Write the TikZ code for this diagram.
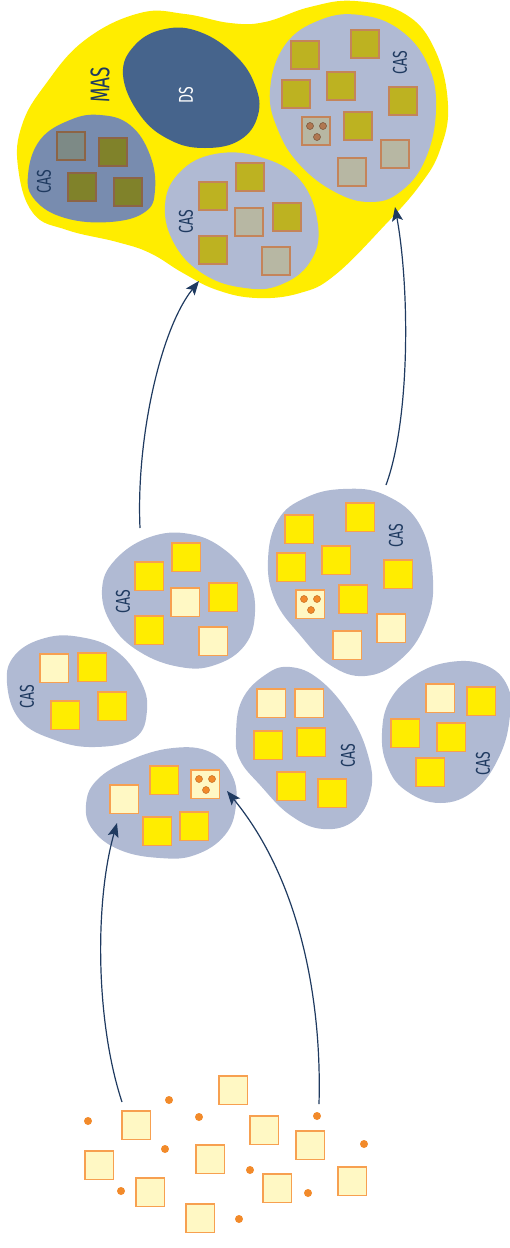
\documentclass[tikz,border=0pt]{standalone}
\usepackage{fontspec}
\newfontfamily\casfont[FakeStretch=0.7]{Fira Sans}
\usetikzlibrary{arrows.meta}
\definecolor{masyellow}{HTML}{FFED00}
\definecolor{casblue}{HTML}{B0BAD3}
\definecolor{casdark}{HTML}{788CAF}
\definecolor{dsblue}{HTML}{46648C}
\definecolor{navy}{HTML}{1F3A60}
\definecolor{sqorange}{HTML}{F7A050}
\definecolor{paleyellow}{HTML}{FFF8C4}
\definecolor{dotorange}{HTML}{F28A2A}
\definecolor{olivesq}{HTML}{BDB221}
\definecolor{graysq}{HTML}{B7B7A3}
\definecolor{darkolive}{HTML}{80822A}
\definecolor{darkgray}{HTML}{7D8A86}
\definecolor{brownedge}{HTML}{C4845A}
\definecolor{darkedge}{HTML}{8C6446}
\tikzset{
  sq/.style={draw=sqorange, line width=1.5pt, minimum size=28.5pt, inner sep=0pt},
  yelsq/.style={sq, fill=masyellow},
  palesq/.style={sq, fill=paleyellow},
  topsq/.style={draw=brownedge, line width=2pt, minimum size=28pt, inner sep=0pt},
  dot/.style={circle, fill=dotorange, minimum size=8pt, inner sep=0pt},
  smalldot/.style={circle, fill=dotorange, draw=dotorange!80!black, line width=.5pt, minimum size=7pt, inner sep=0pt},
  caslabel/.style={text=navy, rotate=90, font=\casfont\fontsize{20}{20}\selectfont},
  link/.style={draw=navy, line width=1.2pt, -{Stealth[length=14pt,width=11pt,inset=3pt]}}
}
\begin{document}
\begin{tikzpicture}[x=1pt,y=-1pt]
\useasboundingbox (0,0) rectangle (510,1248);

% MAS
\fill[masyellow] plot[smooth cycle, tension=0.7] coordinates {(18,167) (22,125) (45,85) (85,40) (140,13) (185,14) (230,23) (265,22) (310,7) (355,1) (405,14) (435,50) (448,105) (440,150) (420,185) (385,225) (335,275) (300,293) (257,298) (217,290) (183,273) (150,253) (117,242) (67,230) (33,213)};
\fill[dsblue] plot[smooth cycle, tension=0.7] coordinates {(123,75) (135,45) (165,29) (200,32) (235,55) (255,85) (258,115) (240,140) (205,148) (170,140) (140,115)};
\fill[casdark] plot[smooth cycle, tension=0.7] coordinates {(28,175) (40,140) (70,120) (100,115) (130,125) (150,155) (155,190) (145,212) (110,222) (65,218) (35,200)};
\fill[casblue] plot[smooth cycle, tension=0.7] coordinates {(165,205) (180,172) (215,154) (260,157) (300,180) (318,225) (310,262) (280,285) (245,288) (205,275) (175,245)};
\fill[casblue] plot[smooth cycle, tension=0.7] coordinates {(270,90) (285,45) (320,20) (360,15) (400,30) (428,65) (436,110) (425,160) (400,192) (370,202) (335,192) (300,165) (278,130)};

\node[text=navy, rotate=90, font=\casfont\fontsize{27}{27}\selectfont] (mas) at (100,85) {MAS};
\node[text=white, rotate=90, font=\casfont\fontsize{20}{20}\selectfont] (ds) at (186,95) {DS};

\node[topsq, draw=darkedge, fill=darkgray] (tl1) at (71,146) {};
\foreach \Point [count=\i] in {(113,152), (82,187), (128,192)}{
    \node[topsq, draw=darkedge, fill=darkolive] (tld\i) at \Point {};
}
\foreach \Point [count=\i] in {(213,196), (250,177), (287,217), (213,250),
        (305,55), (365,44), (341,86), (296,94), (403,101), (358,126)}{
    \node[topsq, fill=olivesq] (to\i) at \Point {};
}
\foreach \Point [count=\i] in {(249,222), (276,261), (395,154), (352,172)}{
    \node[topsq, fill=graysq] (tg\i) at \Point {};
}
\node[topsq, fill=graysq] (tspecial) at (316,131) {};
\foreach \dx/\dy [count=\i] in {-6/-5, 7/-5, 1/6}{
    \node[smalldot, fill=brownedge!90!black, draw=brownedge!60!black] (td\i) at ([shift={(\dx,\dy)}]tspecial.center) {};
}
\node[caslabel] (cas1) at (44,182) {CAS};
\node[caslabel] (cas2) at (186,222) {CAS};
\node[caslabel] (cas3) at (400,63) {CAS};

% CAS
\fill[casblue] plot[smooth cycle, tension=0.7] coordinates {(102,590) (115,560) (150,537) (190,534) (225,550) (248,578) (255,612) (245,645) (215,665) (180,667) (140,652) (112,625)};
\fill[casblue] plot[smooth cycle, tension=0.7] coordinates {(268,560) (278,520) (305,498) (343,489) (385,495) (420,525) (433,580) (425,625) (400,660) (365,676) (330,665) (300,635) (275,600)};
\fill[casblue] plot[smooth cycle, tension=0.7] coordinates {(7,683) (15,655) (45,638) (80,637) (115,650) (140,680) (147,710) (135,738) (95,747) (55,740) (20,720)};
\fill[casblue] plot[smooth cycle, tension=0.7] coordinates {(86,805) (97,780) (130,760) (173,748) (210,752) (232,775) (236,805) (225,835) (195,855) (160,858) (120,850) (93,830)};
\fill[casblue] plot[smooth cycle, tension=0.7] coordinates {(236,735) (242,700) (265,675) (290,667) (320,680) (350,715) (368,755) (371,790) (355,820) (323,829) (290,815) (260,785) (240,760)};
\fill[casblue] plot[smooth cycle, tension=0.7] coordinates {(382,733) (390,700) (415,675) (450,662) (485,665) (507,685) (510,715) (500,755) (475,790) (440,803) (405,790) (387,765)};

\foreach \Point [count=\i] in {(164,780), (157,831), (194,826),
        (92,667), (65,715), (112,706),
        (149,576), (186,557), (223,597), (149,630),
        (299,529), (360,517), (336,560), (291,567), (398,574), (353,599),
        (268,745), (311,742), (291,786), (332,793),
        (481,701), (405,733), (451,737), (430,772)}{
    \node[yelsq] (y\i) at \Point {};
}
\foreach \Point [count=\i] in {(124,799), (54,668), (185,602), (213,641),
        (391,628), (347,645), (271,703), (309,703), (440,698)}{
    \node[palesq] (p\i) at \Point {};
}
\node[palesq] (special1) at (205,784) {};
\node[palesq] (special2) at (310,604) {};
\foreach \dx/\dy [count=\i] in {-6/-5, 7/-5, 1/6}{
    \node[smalldot] (sa\i) at ([shift={(\dx,\dy)}]special1.center) {};
    \node[smalldot] (sb\i) at ([shift={(\dx,\dy)}]special2.center) {};
}
\node[caslabel] (casA) at (123,602) {CAS};
\node[caslabel] (casB) at (396,536) {CAS};
\node[caslabel] (casC) at (27,697) {CAS};
\node[caslabel] (casE) at (348,756) {CAS};
\node[caslabel] (casF) at (483,764) {CAS};

% agents
\foreach \Point [count=\i] in {(136,1125), (233,1090), (264,1130), (310,1145), (99,1165),
        (210,1159), (150,1192), (277,1188), (352,1181), (200,1218)}{
    \node[palesq] (ag\i) at \Point {};
}
\foreach \Point [count=\i] in {(88,1121), (169,1100), (199,1117), (317,1116), (364,1144),
        (165,1149), (250,1170), (121,1191), (308,1193), (239,1219)}{
    \node[dot] (d\i) at \Point {};
}

\coordinate (s1) at (122,1102);
\coordinate (t1) at (117,823);
\coordinate (s2) at (319,1104);
\coordinate (t2) at (227,791);
\coordinate (s3) at (140,528);
\coordinate (t3) at (199,281);
\coordinate (s4) at (386,485);
\coordinate (t4) at (395,207);
\draw[link] (s1) .. controls (95,1020) and (95,900) .. (t1);
\draw[link] (s2) .. controls (322,1000) and (300,880) .. (t2);
\draw[link] (s3) .. controls (136,440) and (160,330) .. (t3);
\draw[link] (s4) .. controls (410,420) and (410,290) .. (t4);
\end{tikzpicture}
\end{document}
